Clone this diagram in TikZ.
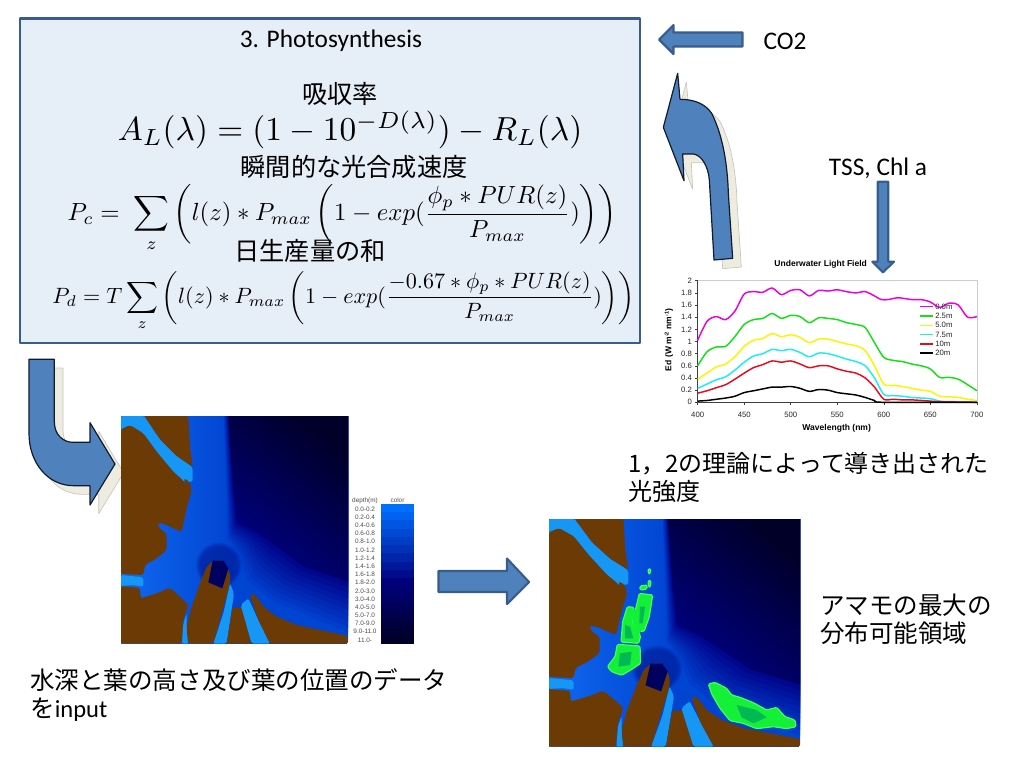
\documentclass[tikz,border=0pt]{standalone}
\usepackage{amsmath,amsfonts,amssymb}
\usepackage[no-math]{fontspec}
\usetikzlibrary{fadings}
\setmainfont{Carlito}
\newfontfamily\jpfont{Noto Sans CJK JP}
\newfontfamily\chartfont{Liberation Sans}
\definecolor{box_fill}{RGB}{230,238,247}
\definecolor{edge_blue}{RGB}{56,93,138}
\definecolor{arrow_blue}{RGB}{79,129,189}
\definecolor{shadow_fill}{RGB}{238,236,225}
\definecolor{shadow_edge}{RGB}{200,198,188}
\definecolor{land_brown}{RGB}{107,58,5}
\definecolor{river_blue}{RGB}{22,150,245}
\definecolor{water_a}{RGB}{16,105,240}
\definecolor{water_b}{RGB}{0,68,210}
\definecolor{water_d}{RGB}{0,25,150}
\definecolor{deep_a}{RGB}{0,0,135}
\definecolor{deep_b}{RGB}{0,0,40}
\definecolor{legend_top}{RGB}{0,110,255}
\definecolor{legend_mid}{RGB}{0,0,125}
\definecolor{grass_light}{RGB}{70,255,90}
\definecolor{grass_mid}{RGB}{20,240,55}
\definecolor{grass_dark}{RGB}{0,185,85}
\definecolor{curve_magenta}{RGB}{235,0,225}
\definecolor{curve_green}{RGB}{20,225,20}
\definecolor{curve_yellow}{RGB}{250,245,0}
\definecolor{curve_cyan}{RGB}{30,235,245}
\definecolor{curve_red}{RGB}{230,10,30}

\newcommand{\mapscene}{%
    \fill[water_b] (333,198) rectangle (1011,881);
    \shade[left color=water_a,right color=water_b] (333,198) rectangle (660,881);
    \foreach \t in {1,0.9,0.8,0.7,0.6,0.5,0.4,0.3,0.2,0.1} {
      \pgfmathsetmacro{\pc}{100*\t}
      \fill[water_b!\pc!deep_a] (655-15*\t,198) -- (668-20*\t,400+20*\t) -- (680-30*\t,518+52*\t) -- (740-60*\t,548+77*\t) -- (800-95*\t,590+115*\t) -- (880-110*\t,650+110*\t) -- (1014,695+170*\t) -- (1014,198) -- cycle;
    }
    \shade[bottom color=deep_a,top color=deep_b,shading angle=-40] (655,198) -- (668,400) -- (680,518) -- (740,548) -- (800,590) -- (880,650) -- (1014,695) -- (1014,198) -- cycle;
    \fill[water_d,opacity=0.65,path fading=circle with fuzzy edge 20 percent] (625,645) circle (70);
    \fill[river] (333,198) -- (403,198) -- (450,268) -- (500,318) -- (548,352) -- (548,395) -- (520,395) -- (490,368) -- (440,308) -- (400,252) -- (360,228) -- (333,238) -- cycle;
    \fill[land] (403,198) -- (535,198) -- (540,290) -- (548,350) -- (500,318) -- (450,268) -- cycle;
    \fill[land] (333,238) -- (360,225) -- (400,250) -- (440,305) -- (490,365) -- (520,392) -- (527,408) -- (522,385) -- (538,395) -- (545,420) -- (530,475) -- (515,545) -- (490,535) -- (460,520) -- (443,520) -- (448,535) -- (470,550) -- (470,600) -- (440,625) -- (405,645) -- (400,675) -- (333,672) -- cycle;
    \fill[river] (333,675) -- (400,682) -- (400,710) -- (370,705) -- (333,708) -- cycle;
    \fill[land] (333,708) -- (390,713) -- (392,745) -- (440,730) -- (480,713) -- (510,740) -- (535,765) -- (520,810) -- (515,881) -- (333,881) -- cycle;
    \fill[river] (530,790) -- (520,820) -- (516,881) -- (535,881) -- (530,830) -- cycle;
    \fill[land] (534,881) -- (530,830) -- (545,770) -- (570,700) -- (590,650) -- (610,632) -- (640,632) -- (660,670) -- (660,700) -- (610,881) -- cycle;
    \fill[river] (660,700) -- (672,730) -- (650,881) -- (610,881) -- (640,790) -- cycle;
    \fill[land] (650,881) -- (668,770) -- (680,775) -- (695,770) -- (725,881) -- cycle;
    \fill[river] (692,765) -- (715,745) -- (745,810) -- (780,881) -- (725,881) -- cycle;
    \fill[land] (720,735) -- (732,730) -- (760,770) -- (800,800) -- (860,825) -- (930,840) -- (1014,858) -- (1014,881) -- (780,881) -- (745,810) -- cycle;
    \fill[black!30!deep_a] (608,632) -- (640,632) -- (655,655) -- (637,715) -- (595,697) -- cycle;
}

\begin{document}
\begin{tikzpicture}[x=0.75pt,y=-0.75pt,line join=round]
    \tikzstyle{blockarrow}=[fill=arrow_blue,draw=edge_blue,line width=1.6pt]
    \tikzstyle{bentarrow}=[fill=arrow_blue,draw=black!70!edge_blue,line width=0.9pt]
    \tikzstyle{shadow}=[fill=shadow_fill,draw=shadow_edge,line width=0.5pt]
    \tikzstyle{label}=[font=\fontsize{19}{22}\selectfont,inner sep=0pt]
    \tikzstyle{jp}=[font=\jpfont\fontsize{18.4}{21}\selectfont,inner sep=0pt,align=left]
    \tikzstyle{jpbox}=[font=\jpfont\fontsize{18.9}{21}\selectfont,inner sep=0pt]
    \tikzstyle{formula}=[inner sep=0pt]
    \tikzstyle{land}=[fill=land_brown,rounded corners=1.5pt]
    \tikzstyle{river}=[fill=river_blue,rounded corners=1.5pt]
    \tikzstyle{grass}=[fill=grass_mid,draw=grass_light,line width=0.9pt,rounded corners=1pt]
    \tikzstyle{curve}=[line width=1.1pt,smooth]
    \tikzstyle{small}=[font=\chartfont\fontsize{5.8}{7}\selectfont,inner sep=0pt,text=black!85]
    \tikzstyle{boldsmall}=[font=\chartfont\bfseries\fontsize{6.4}{7}\selectfont,inner sep=0pt]
    \tikzstyle{depth}=[font=\chartfont\fontsize{4.8}{5}\selectfont,inner sep=0pt,text=black!70]

    \useasboundingbox (0,0) rectangle (1024,768);

    % box with the formulas
    \node[draw=edge_blue,fill=box_fill,line width=2pt,minimum width=465pt,minimum height=243.5pt,inner sep=0pt] (box) at (330,180.5) {};
    \node[label] (title) at (331,41) {3. Photosynthesis};
    \node[jpbox] (absorb) at (340,94) {吸収率};
    \node[formula,scale=2.5] (eqa) at (350,130) {$A_L(\lambda)=(1-10^{-D(\lambda)})-R_L(\lambda)$};
    \node[jpbox] (rate) at (354,167) {瞬間的な光合成速度};
    \node[formula,scale=1.86] (eqb) at (342,218) {$\displaystyle P_c=\;\sum_z\left(l(z)*P_{max}\left(1-exp(\frac{\phi_p*PUR(z)}{P_{max}})\right)\right)$};
    \node[jpbox] (daily) at (310,251) {日生産量の和};
    \node[formula,scale=1.66] (eqc) at (343.5,301) {$\displaystyle P_d=T\sum_z\left(l(z)*P_{max}\left(1-exp(\frac{-0.67*\phi_p*PUR(z)}{P_{max}})\right)\right)$};

    % straight arrows
    \draw[blockarrow] (742.5,32.5) -- (673.5,32.5) -- (673.5,25) -- (659,39.5) -- (673.5,54) -- (673.5,46.5) -- (742.5,46.5) -- cycle;
    \draw[blockarrow] (877.7,181.7) -- (888.3,181.7) -- (888.3,261.7) -- (894,261.7) -- (883,272.3) -- (872.3,261.7) -- (877.7,261.7) -- cycle;
    \draw[blockarrow] (438.5,571) -- (507,571) -- (507,558.5) -- (529,582) -- (507,604) -- (507,592) -- (438.5,592) -- cycle;

    % bent arrow, CO2 side
    \begin{scope}[shift={(640,10)},x=0.25pt,y=-0.25pt]
    \foreach \sty/\off in {shadow/26,bentarrow/0} {
      \draw[\sty,shift={(\off,\off)}] (222,750) -- (278,745) -- (265,550) .. controls (262,450) and (245,370) .. (215,310) .. controls (195,280) and (160,268) .. (120,268) -- (113,190) -- (70,352) -- (132,512) -- (128,432) -- (160,432) .. controls (185,435) and (205,470) .. (208,510) -- cycle;
    }
    \end{scope}

    % bent arrow, map side
    \begin{scope}[shift={(10,350)},x=0.25pt,y=-0.25pt]
    \foreach \sty/\off in {shadow/26,bentarrow/0} {
      \draw[\sty,shift={(\off,\off)}] (57,28) -- (133,28) -- (133,215) .. controls (133,255) and (160,277) .. (190,277) -- (240,277) -- (240,218) -- (315,342) -- (240,465) -- (240,407) -- (190,407) .. controls (115,407) and (57,340) .. (57,250) -- cycle;
    }
    \mapscene
    \end{scope}

    % depth legend
    \node[depth] (depthhead) at (365,500.5) {depth(m)};
    \node[depth] (colorhead) at (397.5,500.5) {color};
    \foreach \lab [count=\n from 0] in {0.0-0.2,0.2-0.4,0.4-0.6,0.6-0.8,0.8-1.0,1.0-1.2,1.2-1.4,1.4-1.6,1.6-1.8,1.8-2.0,2.0-3.0,3.0-4.0,4.0-5.0,5.0-7.0,7.0-9.0,9.0-11.0,11.0-} {
      \pgfmathsetmacro{\pa}{max(0,100-\n*100/9)}
      \pgfmathsetmacro{\pb}{max(0,100-(\n-9)*100/7)}
      \ifnum\n<10
        \fill[legend_top!\pa!legend_mid] (380.7,504+\n*8.22) rectangle (414,504.2+\n*8.22+8.22);
      \else
        \fill[legend_mid!\pb!deep_b] (380.7,504+\n*8.22) rectangle (414,504.2+\n*8.22+8.22);
      \fi
      \node[depth] (row\n) at (365,509+\n*8.18) {\lab};
    }

    % map with seagrass
    \begin{scope}[shift={(426.3,453)},x=0.2764pt,y=-0.25pt]
    \mapscene
    \end{scope}
    \begin{scope}[shift={(540,510)},x=0.25pt,y=-0.25pt]
    \fill[grass] (505,522) -- (525,517) -- (560,535) -- (575,555) -- (600,562) -- (640,578) -- (680,600) -- (710,592) -- (735,620) -- (765,630) -- (768,650) -- (740,656) -- (700,650) -- (650,656) -- (610,640) -- (570,632) -- (540,595) -- (515,552) -- cycle;
    \fill[grass_dark] (590,585) -- (650,600) -- (680,622) -- (640,640) -- (605,622) -- cycle;
    \fill[grass] (232,403) -- (300,408) -- (302,460) -- (272,480) -- (245,496) -- (215,485) -- (202,470) -- (225,440) -- cycle;
    \fill[grass] (248,335) -- (262,290) -- (282,292) -- (278,340) -- (302,378) -- (296,400) -- (243,396) -- cycle;
    \fill[grass] (298,250) -- (338,255) -- (328,320) -- (312,365) -- (288,360) -- (284,310) -- cycle;
    \fill[grass_mid] (275,300) -- (295,300) -- (305,360) -- (292,380) -- (278,340) -- cycle;
    \fill[grass] (300,228) -- (322,225) -- (320,238) -- (300,240) -- cycle;
    \fill[grass] (325,175) -- (333,178) -- (330,192) -- (325,190) -- cycle;
    \fill[grass] (325,210) -- (333,212) -- (331,232) -- (325,230) -- cycle;
    \fill[grass_dark] (255,345) -- (270,350) -- (280,385) -- (255,385) -- cycle;
    \fill[grass_dark] (240,430) -- (275,425) -- (270,465) -- (235,470) -- cycle;
    \fill[grass_dark] (300,290) -- (315,290) -- (308,340) -- (298,340) -- cycle;
    \end{scope}

    % light field chart
    \node[boldsmall] (charttitle) at (820.7,264) {Underwater Light Field};
    \draw[black!20,line width=0.5pt] (697.7,280.7) -- (977,280.7) -- (977,402.3);
    \begin{scope}[shift={(325.4,402.3)},x=0.698pt,y=45.6pt]
    \draw[black!75,line width=0.5pt] (400,2) -- (400,0) -- (700,0);
    \foreach \v/\vlab in {0/0,0.2/0.2,0.4/0.4,0.6/0.6,0.8/0.8,1/1,1.2/1.2,1.4/1.4,1.6/1.6,1.8/1.8,2/2} {
      \draw[black!75,line width=0.4pt] (397,\v) -- (400,\v);
      \node[small,anchor=east] at (394,\v) {\vlab};
    }
    \foreach \w in {400,450,...,700} {
      \draw[black!75,line width=0.4pt] (\w,0) -- (\w,-0.04);
      \node[small] at (\w,-0.2) {\w};
    }
    \draw[curve,curve_magenta] plot[smooth] coordinates {(400,1.02) (410,1.33) (420,1.41) (430,1.36) (440,1.5) (450,1.78) (460,1.82) (470,1.81) (480,1.88) (490,1.77) (500,1.84) (510,1.85) (520,1.75) (530,1.84) (540,1.83) (550,1.85) (560,1.82) (570,1.8) (580,1.82) (590,1.75) (597,1.69) (605,1.69) (615,1.72) (630,1.69) (640,1.69) (650,1.65) (660,1.56) (670,1.63) (680,1.6) (690,1.4) (700,1.41)};
    \draw[curve,curve_green] plot[smooth] coordinates {(400,0.6) (410,0.83) (420,0.91) (430,0.92) (440,1.08) (450,1.28) (460,1.36) (470,1.38) (480,1.46) (490,1.38) (500,1.43) (510,1.41) (520,1.31) (530,1.39) (540,1.38) (550,1.36) (560,1.31) (570,1.28) (580,1.23) (590,0.98) (600,0.74) (610,0.69) (620,0.67) (630,0.63) (640,0.6) (650,0.55) (660,0.41) (670,0.41) (680,0.38) (690,0.29) (700,0.19)};
    \draw[curve,curve_yellow] plot[smooth] coordinates {(400,0.38) (410,0.48) (420,0.58) (430,0.63) (440,0.75) (450,0.92) (460,1.02) (470,1.05) (480,1.13) (490,1.08) (500,1.11) (510,1.07) (520,0.98) (530,1.04) (540,1.04) (550,1) (560,0.96) (570,0.93) (580,0.85) (590,0.6) (600,0.3) (610,0.28) (620,0.26) (630,0.23) (640,0.2) (650,0.18) (660,0.1) (670,0.09) (680,0.08) (690,0.05) (700,0.03)};
    \draw[curve,curve_cyan] plot[smooth] coordinates {(400,0.23) (410,0.3) (420,0.37) (430,0.42) (440,0.53) (450,0.66) (460,0.76) (470,0.8) (480,0.87) (490,0.85) (500,0.87) (510,0.82) (520,0.75) (530,0.81) (540,0.8) (550,0.76) (560,0.71) (570,0.67) (580,0.6) (590,0.4) (600,0.13) (610,0.11) (620,0.1) (630,0.08) (640,0.07) (650,0.06) (660,0.02) (670,0.01) (680,0.01) (700,0)};
    \draw[curve,curve_red] plot[smooth] coordinates {(400,0.15) (410,0.19) (420,0.24) (430,0.29) (440,0.38) (450,0.48) (460,0.57) (470,0.62) (480,0.68) (490,0.66) (500,0.68) (510,0.63) (520,0.57) (530,0.6) (540,0.6) (550,0.55) (560,0.51) (570,0.48) (580,0.4) (590,0.25) (600,0.05) (610,0.05) (620,0.04) (630,0.04) (640,0.03) (650,0.02) (660,0.01) (700,0)};
    \draw[curve,black] plot[smooth] coordinates {(400,0.02) (410,0.03) (420,0.05) (430,0.07) (440,0.1) (450,0.16) (460,0.19) (470,0.22) (480,0.25) (490,0.25) (500,0.26) (510,0.23) (520,0.18) (530,0.21) (540,0.2) (550,0.16) (560,0.14) (570,0.12) (580,0.08) (590,0.03) (600,0) (700,0)};
    \end{scope}
    \foreach \col/\lab [count=\n from 0] in {curve_magenta/0.0m,curve_green/2.5m,curve_yellow/5.0m,curve_cyan/7.5m,curve_red/10m,black/20m} {
      \coordinate (keya\n) at (920,306.7+\n*9.3);
      \coordinate (keyb\n) at (933,306.7+\n*9.3);
      \draw[\col,line width=1.1pt] (keya\n) -- (keyb\n);
      \node[small,anchor=west] (key\n) at (935,306.7+\n*9.3) {\lab};
    }
    \node[boldsmall,rotate=90] (ylabel) at (669,340) {Ed (W m\raisebox{2pt}{\fontsize{4.2}{5}\selectfont -2} nm\raisebox{2pt}{\fontsize{4.2}{5}\selectfont -1})};
    \node[boldsmall] (xlabel) at (836.7,428.5) {Wavelength (nm)};

    % texts
    \node[label] (co2) at (785,41) {CO2};
    \node[label] (tss) at (878,168) {TSS, Chl a};
    \node[jp,anchor=north west,font=\jpfont\fontsize{18}{21}\selectfont] (lighttext) at (628,452) {1，2の理論によって導き出された\\光強度};
    \node[jp,anchor=north west] (maxtext) at (820,594) {アマモの最大の\\分布可能領域};
    \node[jp,anchor=north west] (inputtext) at (30,668) {水深と葉の高さ及び葉の位置のデータ\\を\rmfamily\fontsize{18.4}{21}\selectfont input};
\end{tikzpicture}
\end{document}
